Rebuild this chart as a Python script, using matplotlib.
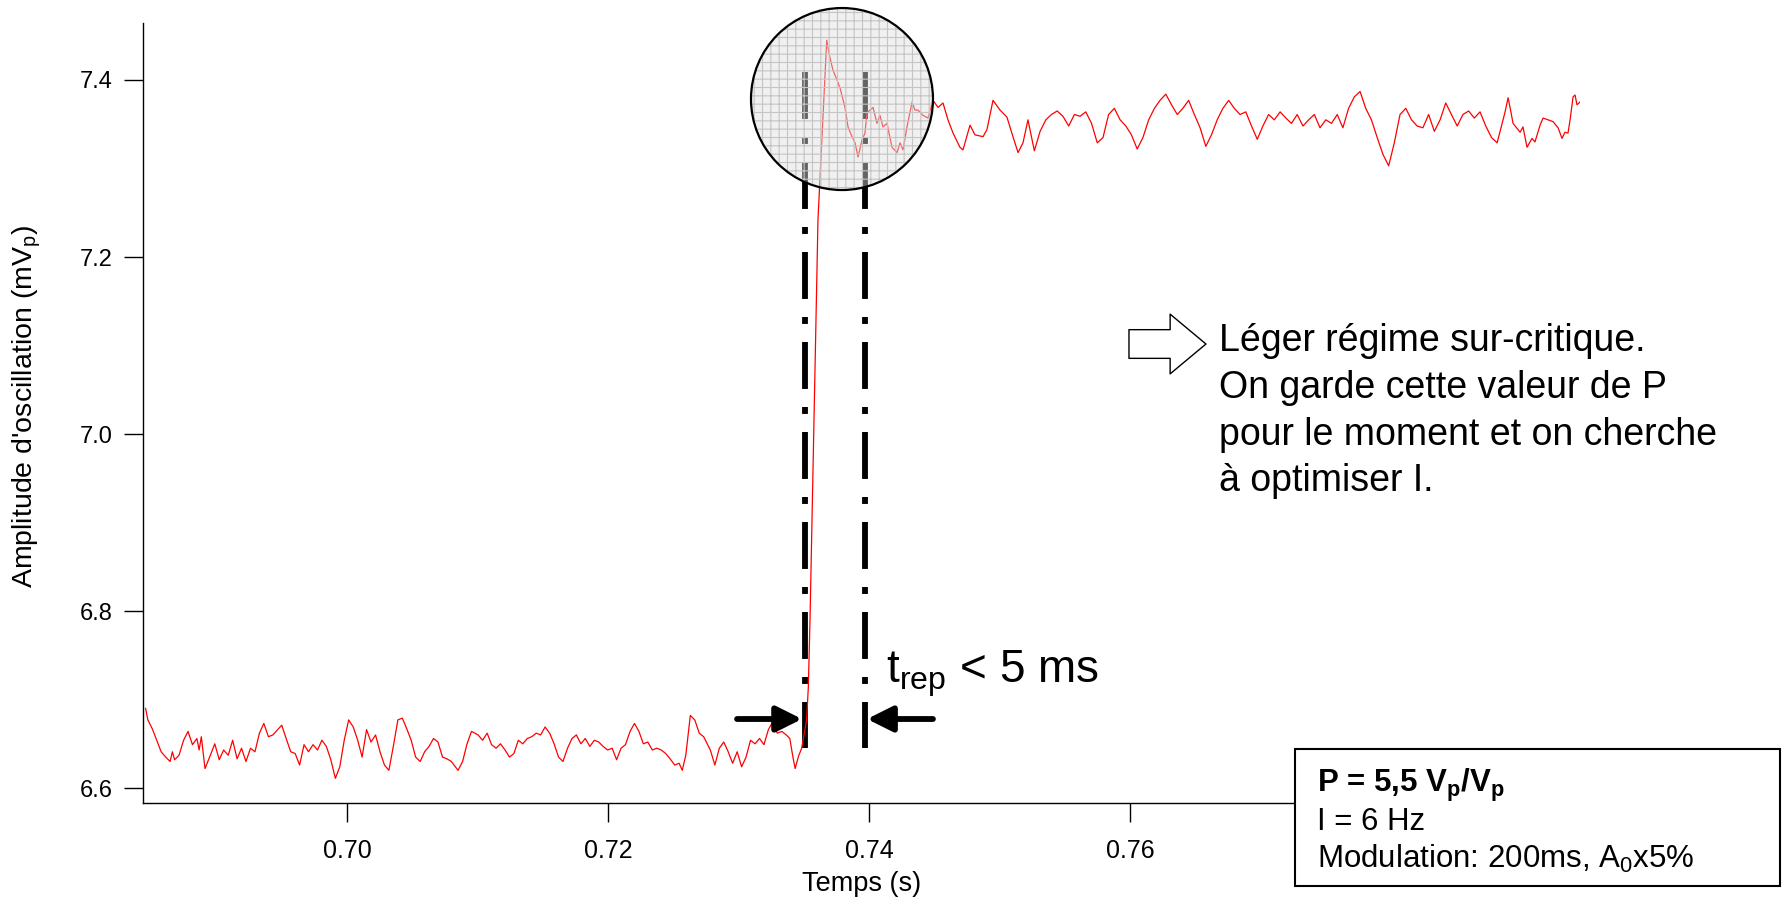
import matplotlib
matplotlib.use("Agg")
import matplotlib.pyplot as plt
from matplotlib.patches import Circle, Rectangle
from matplotlib.transforms import ScaledTranslation
from matplotlib import font_manager

plt.rcParams['font.family'] = ['Liberation Sans', 'DejaVu Sans']
plt.rcParams['mathtext.fontset'] = 'custom'
plt.rcParams['mathtext.rm'] = 'Liberation Sans'
plt.rcParams['mathtext.it'] = 'Liberation Sans'
plt.rcParams['mathtext.bf'] = 'Liberation Sans:bold'
plt.rcParams['mathtext.default'] = 'regular'
plt.rcParams['lines.scale_dashes'] = False
plt.rcParams['hatch.linewidth'] = 0.8

names = {f.name for f in font_manager.fontManager.ttflist}
narrow = ['Liberation Sans Narrow', 'Liberation Sans'] if 'Liberation Sans Narrow' in names else ['Liberation Sans']

# signal (time in s, amplitude in mVp)
temps = [
    0.68457, 0.68474, 0.68508, 0.68542, 0.68576, 0.68611, 0.68645, 0.68662, 0.68679, 0.68713,
    0.68748, 0.68782, 0.68816, 0.68850, 0.68867, 0.68884, 0.68912, 0.68953, 0.68987, 0.69021,
    0.69055, 0.69090, 0.69124, 0.69158, 0.69192, 0.69226, 0.69261, 0.69295, 0.69329, 0.69363,
    0.69398, 0.69432, 0.69500, 0.69534, 0.69569, 0.69603, 0.69637, 0.69671, 0.69705, 0.69740,
    0.69774, 0.69808, 0.69842, 0.69876, 0.69911, 0.69945, 0.69979, 0.70013, 0.70048, 0.70082,
    0.70116, 0.70150, 0.70184, 0.70219, 0.70253, 0.70287, 0.70321, 0.70355, 0.70390, 0.70424,
    0.70458, 0.70492, 0.70526, 0.70561, 0.70595, 0.70629, 0.70663, 0.70697, 0.70732, 0.70766,
    0.70800, 0.70851, 0.70886, 0.70920, 0.70954, 0.71005, 0.71039, 0.71074, 0.71108, 0.71142,
    0.71176, 0.71211, 0.71245, 0.71279, 0.71313, 0.71347, 0.71382, 0.71416, 0.71450, 0.71484,
    0.71518, 0.71553, 0.71587, 0.71621, 0.71655, 0.71690, 0.71724, 0.71758, 0.71792, 0.71826,
    0.71861, 0.71895, 0.71929, 0.71963, 0.71997, 0.72032, 0.72066, 0.72100, 0.72134, 0.72169,
    0.72203, 0.72237, 0.72271, 0.72305, 0.72340, 0.72374, 0.72408, 0.72442, 0.72476, 0.72511,
    0.72545, 0.72569, 0.72596, 0.72631, 0.72665, 0.72699, 0.72733, 0.72784, 0.72819, 0.72853,
    0.72887, 0.72921, 0.72955, 0.72990, 0.73024, 0.73058, 0.73092, 0.73126, 0.73161, 0.73195,
    0.73229, 0.73263, 0.73297, 0.73332, 0.73366, 0.73393, 0.73417, 0.73434, 0.73460, 0.73484,
    0.73522, 0.73535, 0.73548, 0.73609, 0.73676,
    0.73701, 0.73724, 0.73755, 0.73778, 0.73816, 0.73839, 0.73870, 0.73893, 0.73916, 0.73946,
    0.73969, 0.73985, 0.74008, 0.74031, 0.74061, 0.74084, 0.74107, 0.74138, 0.74176, 0.74215,
    0.74238, 0.74261, 0.74291, 0.74330, 0.74352, 0.74375, 0.74414, 0.74452, 0.74490, 0.74529,
    0.74567, 0.74605, 0.74644, 0.74697, 0.74720, 0.74774, 0.74812, 0.74874, 0.74904, 0.74950,
    0.75004, 0.75057, 0.75103, 0.75142, 0.75180, 0.75218,
    0.75267, 0.75311, 0.75355, 0.75398, 0.75442, 0.75486, 0.75530, 0.75574, 0.75617, 0.75661,
    0.75705, 0.75749, 0.75793, 0.75836, 0.75880, 0.75924, 0.75968, 0.76011, 0.76055, 0.76099,
    0.76143, 0.76187, 0.76230, 0.76274, 0.76318, 0.76362, 0.76405, 0.76449, 0.76493, 0.76537,
    0.76581, 0.76624, 0.76668, 0.76712, 0.76756, 0.76799, 0.76843, 0.76887, 0.76931, 0.76975,
    0.77018, 0.77062, 0.77106, 0.77150, 0.77194, 0.77237, 0.77281, 0.77325, 0.77369, 0.77412,
    0.77456, 0.77500, 0.77544, 0.77588, 0.77631, 0.77675, 0.77719, 0.77763, 0.77806, 0.77850,
    0.77894, 0.77938, 0.77982, 0.78025, 0.78069, 0.78113, 0.78157, 0.78200, 0.78244, 0.78288,
    0.78332, 0.78376, 0.78419, 0.78463, 0.78507, 0.78551, 0.78595, 0.78638, 0.78682, 0.78726,
    0.78770, 0.78813,
    0.78874, 0.78897, 0.78912, 0.78935, 0.78989, 0.79011, 0.79042, 0.79080, 0.79103, 0.79142,
    0.79165, 0.79203, 0.79241, 0.79280, 0.79310, 0.79333, 0.79356, 0.79372, 0.79395, 0.79410,
    0.79425, 0.79448,
]
amplitude = [
    6.690, 6.677, 6.667, 6.654, 6.641, 6.635, 6.630, 6.641, 6.632, 6.637,
    6.654, 6.664, 6.649, 6.656, 6.643, 6.658, 6.622, 6.637, 6.650, 6.632,
    6.643, 6.637, 6.654, 6.633, 6.645, 6.630, 6.645, 6.641, 6.662, 6.673,
    6.658, 6.660, 6.671, 6.656, 6.641, 6.639, 6.626, 6.649, 6.641, 6.649,
    6.643, 6.654, 6.647, 6.632, 6.611, 6.624, 6.654, 6.677, 6.669, 6.654,
    6.635, 6.666, 6.652, 6.660, 6.641, 6.626, 6.620, 6.647, 6.677, 6.679,
    6.667, 6.654, 6.635, 6.630, 6.641, 6.647, 6.656, 6.652, 6.635, 6.633,
    6.630, 6.620, 6.630, 6.650, 6.664, 6.660, 6.654, 6.662, 6.649, 6.645,
    6.650, 6.643, 6.635, 6.639, 6.654, 6.650, 6.656, 6.658, 6.662, 6.660,
    6.669, 6.662, 6.650, 6.635, 6.630, 6.645, 6.656, 6.660, 6.650, 6.656,
    6.647, 6.654, 6.652, 6.647, 6.643, 6.645, 6.632, 6.645, 6.649, 6.664,
    6.673, 6.664, 6.650, 6.652, 6.643, 6.645, 6.643, 6.639, 6.633, 6.626,
    6.628, 6.620, 6.637, 6.682, 6.677, 6.662, 6.658, 6.643, 6.626, 6.645,
    6.652, 6.641, 6.628, 6.641, 6.624, 6.635, 6.654, 6.650, 6.656, 6.649,
    6.666, 6.675, 6.662, 6.664, 6.660, 6.656, 6.635, 6.622, 6.636, 6.645,
    6.677, 6.714, 6.790, 7.242, 7.445,
    7.425, 7.411, 7.400, 7.391, 7.369, 7.347, 7.336, 7.329, 7.313, 7.332,
    7.340, 7.363, 7.366, 7.369, 7.351, 7.360, 7.347, 7.351, 7.324, 7.318,
    7.329, 7.321, 7.347, 7.375, 7.366, 7.366, 7.360, 7.357, 7.377, 7.369,
    7.374, 7.355, 7.340, 7.324, 7.321, 7.349, 7.338, 7.336, 7.344, 7.377,
    7.366, 7.358, 7.336, 7.318, 7.329, 7.355,
    7.320, 7.342, 7.355, 7.361, 7.365, 7.359, 7.348, 7.361, 7.359, 7.364,
    7.351, 7.329, 7.335, 7.361, 7.368, 7.355, 7.348, 7.338, 7.322, 7.335,
    7.355, 7.368, 7.377, 7.384, 7.372, 7.361, 7.368, 7.377, 7.361, 7.346,
    7.325, 7.338, 7.355, 7.368, 7.377, 7.368, 7.361, 7.364, 7.348, 7.333,
    7.348, 7.361, 7.355, 7.364, 7.357, 7.351, 7.361, 7.348, 7.355, 7.361,
    7.346, 7.355, 7.351, 7.361, 7.346, 7.368, 7.381, 7.387, 7.368, 7.355,
    7.335, 7.316, 7.303, 7.329, 7.361, 7.368, 7.355, 7.348, 7.346, 7.361,
    7.342, 7.355, 7.374, 7.361, 7.348, 7.361, 7.365, 7.357, 7.364, 7.348,
    7.335, 7.329,
    7.364, 7.380, 7.369, 7.351, 7.341, 7.347, 7.324, 7.334, 7.330, 7.349,
    7.357, 7.355, 7.353, 7.346, 7.334, 7.341, 7.340, 7.355, 7.381, 7.383,
    7.372, 7.375,
]

# the 0.78 tick sits under the parameter box in the original
x_ticks = [0.70, 0.72, 0.74, 0.76]
y_ticks = [6.6, 6.8, 7.0, 7.2, 7.4]

# markers of the response time and zoomed region
t_debut, t_fin = 0.73506, 0.73966
trait_haut, trait_bas = 7.409, 6.645
fleche_y = 6.678
zoom_centre = (0.73793, 7.3785)

fig = plt.figure(figsize=(17.92, 9.01), dpi=100)
ax = fig.add_axes([143 / 1792, 1 - 803 / 901, 1437 / 1792, 780 / 901])

ax.plot(temps, amplitude, color='red', lw=0.9, zorder=4)

ax.set_xlim(0.68437, 0.79448)
ax.set_ylim(6.5831, 7.4644)
ax.spines['top'].set_visible(False)
ax.spines['right'].set_visible(False)
for s in ('left', 'bottom'):
    ax.spines[s].set_linewidth(1.0)
ax.set_xticks(x_ticks)
ax.set_xticklabels([f'{v:.2f}' for v in x_ticks], family=narrow, fontsize=18)
ax.set_yticks(y_ticks)
ax.set_yticklabels([f'{v:.1f}' for v in y_ticks], fontsize=17)
ax.tick_params(direction='out', length=14, width=1.0, pad=8)
ax.tick_params(axis='x', pad=12)

ax.set_xlabel('Temps (s)', family=narrow, fontsize=19.5)
ax.xaxis.set_label_coords(0.5, -0.104)
ax.xaxis.label.set_va('center')
ax.set_ylabel("Amplitude d'oscillation (mV$_p$)", family=narrow, fontsize=20.5)
ax.yaxis.set_label_coords(-0.0805, 0.509)
ax.yaxis.label.set_va('center')

# dash-dot markers
for xv in (t_debut, t_fin):
    ax.plot([xv, xv], [trait_haut, trait_bas], color='black', lw=4.2,
            linestyle=(0, (33.8, 13, 5, 13)), solid_capstyle='butt',
            dash_capstyle='butt', zorder=3)

# arrows
fleche = dict(arrowstyle='-|>,head_length=0.7,head_width=0.35', lw=4.2,
              color='black', shrinkA=0, shrinkB=0, mutation_scale=22)
ax.annotate('', xy=(0.73487, fleche_y), xytext=(0.72989, fleche_y),
            arrowprops=fleche, zorder=5)
ax.annotate('', xy=(0.73985, fleche_y), xytext=(0.74490, fleche_y),
            arrowprops=fleche, zorder=5)

ax.text(0.74130, 6.719, r'$\mathregular{t_{rep}}$ < 5 ms', fontsize=33,
        va='baseline', ha='left', zorder=6)

# zoom circle
tr = fig.dpi_scale_trans + ScaledTranslation(zoom_centre[0], zoom_centre[1], ax.transData)
ax.add_patch(Circle((0, 0), 0.91, transform=tr, facecolor=(0.87, 0.87, 0.87, 0.45),
                    edgecolor='#c4c4c4', linewidth=0, hatch='++', zorder=7, clip_on=False))
ax.add_patch(Circle((0, 0), 0.91, transform=tr, facecolor='none',
                    edgecolor='black', linewidth=1.6, zorder=8, clip_on=False))

# hollow arrow and comment
ax.annotate('', xy=(0.76582, 7.1017), xytext=(0.75992, 7.1017),
            arrowprops=dict(arrowstyle='simple,head_length=0.6,head_width=1.0,tail_width=0.48',
                            fc='white', ec='black', lw=1.0, shrinkA=0, shrinkB=0,
                            mutation_scale=43), zorder=6)
ax.text(0.76682, 7.125,
        'Léger régime sur-critique.\nOn garde cette valeur de P\npour le moment et on cherche\nà optimiser I.',
        fontsize=27, va='top', ha='left', linespacing=1.38, zorder=6)

# parameter box
fig.add_artist(Rectangle((1295 / 1792, 1 - 886 / 901), 485 / 1792, 137 / 901,
                         transform=fig.transFigure, facecolor='white',
                         edgecolor='black', linewidth=1.5, zorder=10))
fig.text(1317 / 1792, 1 - 792 / 901, r'P = 5,5 $\mathbf{V_p}$/$\mathbf{V_p}$',
         fontsize=22.5, fontweight='bold', va='baseline', zorder=11)
fig.text(1317 / 1792, 1 - 830 / 901, 'I = 6 Hz', fontsize=22.5, va='baseline', zorder=11)
fig.text(1317 / 1792, 1 - 868 / 901, r'Modulation: 200ms, A$_0$x5%',
         fontsize=22.5, va='baseline', zorder=11)

fig.savefig('out.png', dpi=100)
